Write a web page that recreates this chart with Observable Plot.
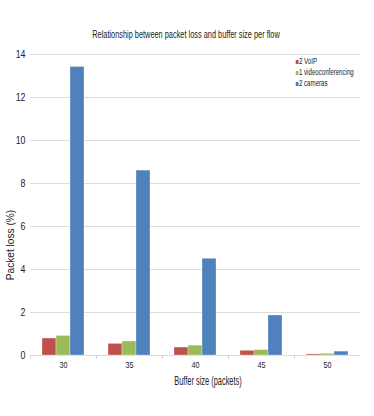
<!DOCTYPE html>
<html>
<head>
<meta charset="utf-8">
<script src="https://cdn.jsdelivr.net/npm/d3@7"></script>
<script src="https://cdn.jsdelivr.net/npm/@observablehq/plot@0.6"></script>
<style>
  html, body { margin: 0; padding: 0; background: #fff; }
  #wrap { position: relative; width: 374px; height: 416px; font-family: "Liberation Sans", Arial, sans-serif; color: #222; }
  #wrap svg { position: absolute; left: 0; top: 0; }
  .ov { position: absolute; white-space: nowrap; }
  #title { left: 186px; top: 34px; transform: translate(-50%, -50%) scaleX(0.67); font-size: 11px; }
  #ylab { left: 9.5px; top: 245px; transform: translate(-50%, -50%) rotate(-90deg) scaleX(0.92); font-size: 11px; }
  #xlab { left: 208px; top: 379.5px; transform: translate(-50%, -50%) scaleX(0.57); font-size: 13px; }
  #legend { left: 295px; top: 56px; font-size: 8.5px; line-height: 11px; background: #fff; padding: 0 3px 3px 1px; transform-origin: 0 0; transform: scaleX(0.72); }
  #legend .sw { display: inline-block; width: 3.5px; height: 4px; margin-right: 1px; vertical-align: 0px; }
</style>
</head>
<body>
<div id="wrap">
  <div id="chart"></div>
  <div class="ov" id="title">Relationship between packet loss and buffer size per flow</div>
  <div class="ov" id="ylab">Packet loss (%)</div>
  <div class="ov" id="xlab">Buffer size (packets)</div>
  <div class="ov" id="legend"></div>
</div>
<script>
const sizes = ["30", "35", "40", "45", "50"];
const seriesNames = ["2 VoIP", "1 videoconferencing", "2 cameras"];
const voip = [0.79, 0.54, 0.37, 0.22, 0.05];
const video = [0.91, 0.65, 0.46, 0.25, 0.08];
const cameras = [13.42, 8.6, 4.5, 1.86, 0.18];
const yTicks = [0, 2, 4, 6, 8, 10, 12, 14];
const colors = ["#c0504d", "#9bbb59", "#4f81bd"];

const valuesBySeries = [voip, video, cameras];
const data = [];
sizes.forEach((s, i) => {
  seriesNames.forEach((n, j) => data.push({size: s, series: n, value: valuesBySeries[j][i]}));
});

const chart = Plot.plot({
  width: 374,
  height: 416,
  marginTop: 54,
  marginBottom: 61,
  marginLeft: 28,
  marginRight: 13,
  style: {fontFamily: "Liberation Sans, Arial, sans-serif", fontSize: "9px", color: "#222", background: "transparent"},
  fx: {domain: sizes, padding: 0, axis: null},
  x: {domain: seriesNames, paddingInner: 0, paddingOuter: 0.77, axis: null},
  y: {domain: [0, 14], axis: null},
  color: {domain: seriesNames, range: colors},
  marks: [
    Plot.ruleY(yTicks, {y: d => d, stroke: "#dcdcdc", strokeWidth: 1}),
    Plot.frame({anchor: "left", stroke: "#d0d0d0", insetTop: 301, insetBottom: -3}),
    Plot.barY(data, {fx: "size", x: "series", y: "value", fill: "series", stroke: "#ffffff", strokeOpacity: 0.5, strokeWidth: 0.6}),
    Plot.axisY({ticks: yTicks, tickSize: 0, tickPadding: 5, fontSize: 11, label: null, facetAnchor: "left"}),
    Plot.axisFx({anchor: "bottom", tickSize: 0, tickPadding: 6, fontSize: 9, label: null})
  ]
});
document.getElementById("chart").appendChild(chart);

// condense tick labels horizontally to mimic the narrow font of the original
chart.querySelectorAll('g[aria-label$="tick label"] text').forEach(t => {
  let x = parseFloat(t.getAttribute("x"));
  if (!isFinite(x)) x = 0;
  const tr = t.getAttribute("transform") || "";
  t.setAttribute("transform", `${tr} translate(${x},0) scale(0.8,1) translate(${-x},0)`);
});

const legend = document.getElementById("legend");
seriesNames.forEach((n, j) => {
  const row = document.createElement("div");
  const sw = document.createElement("span");
  sw.className = "sw";
  sw.style.background = colors[j];
  row.appendChild(sw);
  row.appendChild(document.createTextNode(n));
  legend.appendChild(row);
});
</script>
</body>
</html>
